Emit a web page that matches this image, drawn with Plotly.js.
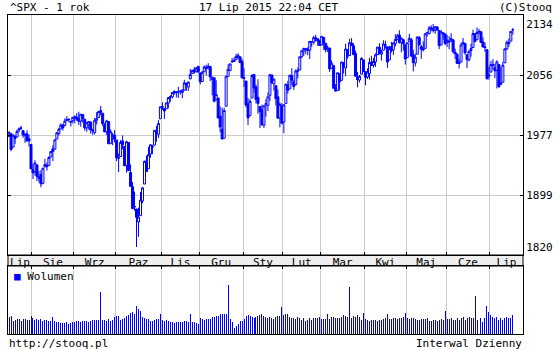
<!DOCTYPE html>
<html>
<head>
<meta charset="utf-8">
<script src="https://cdn.plot.ly/plotly-3.0.1.min.js"></script>
<style>html,body{margin:0;padding:0;background:#fff;}#chart{width:560px;height:350px;}</style>
</head>
<body>
<div id="chart"></div>
<script>
// ---- DATA (^SPX daily, 16 Jul 2014 - 17 Jul 2015) ----
const dates = [
 '2014-07-16','2014-07-17','2014-07-18','2014-07-21','2014-07-22','2014-07-23','2014-07-24','2014-07-25','2014-07-28','2014-07-29','2014-07-30','2014-07-31',
 '2014-08-01','2014-08-04','2014-08-05','2014-08-06','2014-08-07','2014-08-08','2014-08-11','2014-08-12','2014-08-13','2014-08-14','2014-08-15','2014-08-18','2014-08-19','2014-08-20','2014-08-21','2014-08-22','2014-08-25','2014-08-26','2014-08-27','2014-08-28','2014-08-29',
 '2014-09-02','2014-09-03','2014-09-04','2014-09-05','2014-09-08','2014-09-09','2014-09-10','2014-09-11','2014-09-12','2014-09-15','2014-09-16','2014-09-17','2014-09-18','2014-09-19','2014-09-22','2014-09-23','2014-09-24','2014-09-25','2014-09-26','2014-09-29','2014-09-30',
 '2014-10-01','2014-10-02','2014-10-03','2014-10-06','2014-10-07','2014-10-08','2014-10-09','2014-10-10','2014-10-13','2014-10-14','2014-10-15','2014-10-16','2014-10-17','2014-10-20','2014-10-21','2014-10-22','2014-10-23','2014-10-24','2014-10-27','2014-10-28','2014-10-29','2014-10-30','2014-10-31',
 '2014-11-03','2014-11-04','2014-11-05','2014-11-06','2014-11-07','2014-11-10','2014-11-11','2014-11-12','2014-11-13','2014-11-14','2014-11-17','2014-11-18','2014-11-19','2014-11-20','2014-11-21','2014-11-24','2014-11-25','2014-11-26','2014-11-28',
 '2014-12-01','2014-12-02','2014-12-03','2014-12-04','2014-12-05','2014-12-08','2014-12-09','2014-12-10','2014-12-11','2014-12-12','2014-12-15','2014-12-16','2014-12-17','2014-12-18','2014-12-19','2014-12-22','2014-12-23','2014-12-24','2014-12-26','2014-12-29','2014-12-30','2014-12-31',
 '2015-01-02','2015-01-05','2015-01-06','2015-01-07','2015-01-08','2015-01-09','2015-01-12','2015-01-13','2015-01-14','2015-01-15','2015-01-16','2015-01-20','2015-01-21','2015-01-22','2015-01-23','2015-01-26','2015-01-27','2015-01-28','2015-01-29','2015-01-30',
 '2015-02-02','2015-02-03','2015-02-04','2015-02-05','2015-02-06','2015-02-09','2015-02-10','2015-02-11','2015-02-12','2015-02-13','2015-02-17','2015-02-18','2015-02-19','2015-02-20','2015-02-23','2015-02-24','2015-02-25','2015-02-26','2015-02-27',
 '2015-03-02','2015-03-03','2015-03-04','2015-03-05','2015-03-06','2015-03-09','2015-03-10','2015-03-11','2015-03-12','2015-03-13','2015-03-16','2015-03-17','2015-03-18','2015-03-19','2015-03-20','2015-03-23','2015-03-24','2015-03-25','2015-03-26','2015-03-27','2015-03-30','2015-03-31',
 '2015-04-01','2015-04-02','2015-04-06','2015-04-07','2015-04-08','2015-04-09','2015-04-10','2015-04-13','2015-04-14','2015-04-15','2015-04-16','2015-04-17','2015-04-20','2015-04-21','2015-04-22','2015-04-23','2015-04-24','2015-04-27','2015-04-28','2015-04-29','2015-04-30',
 '2015-05-01','2015-05-04','2015-05-05','2015-05-06','2015-05-07','2015-05-08','2015-05-11','2015-05-12','2015-05-13','2015-05-14','2015-05-15','2015-05-18','2015-05-19','2015-05-20','2015-05-21','2015-05-22','2015-05-26','2015-05-27','2015-05-28','2015-05-29',
 '2015-06-01','2015-06-02','2015-06-03','2015-06-04','2015-06-05','2015-06-08','2015-06-09','2015-06-10','2015-06-11','2015-06-12','2015-06-15','2015-06-16','2015-06-17','2015-06-18','2015-06-19','2015-06-22','2015-06-23','2015-06-24','2015-06-25','2015-06-26','2015-06-29','2015-06-30',
 '2015-07-01','2015-07-02','2015-07-06','2015-07-07','2015-07-08','2015-07-09','2015-07-10','2015-07-13','2015-07-14','2015-07-15','2015-07-16','2015-07-17'
];
const open = [
 1976.4,1979.8,1961.5,1976.9,1975.7,1985.3,1988.1,1984.6,1978.3,1980.0,1973.2,1965.1,
 1929.8,1926.6,1936.3,1917.3,1923.0,1910.4,1933.4,1935.7,1935.6,1947.4,1958.9,1958.4,1972.7,1980.5,1986.8,1992.6,1991.7,1998.6,2000.5,1997.4,1998.5,
 2004.1,2003.6,2001.7,1998.0,2007.2,2000.7,1988.4,1992.9,1996.7,1986.0,1981.9,1999.3,2003.1,2012.7,2009.1,1992.8,1983.3,1997.3,1966.2,1978.1,1978.2,
 1971.4,1945.8,1948.1,1970.0,1962.4,1935.6,1967.7,1925.6,1905.7,1877.1,1874.2,1855.9,1864.9,1885.6,1909.4,1941.3,1931.0,1951.6,1962.0,1964.1,1983.3,1979.5,2001.2,
 2018.2,2015.8,2015.3,2023.3,2032.4,2032.0,2038.2,2037.8,2039.2,2039.7,2038.3,2041.5,2051.2,2045.9,2057.5,2065.1,2070.2,2067.4,2074.8,
 2065.8,2053.8,2067.5,2073.6,2072.8,2074.8,2056.6,2058.9,2027.9,2030.4,2005.0,1986.7,1973.8,2018.9,2061.0,2069.3,2081.5,2083.3,2084.3,2087.6,2088.5,2082.1,
 2058.9,2054.4,2022.2,2005.6,2030.6,2063.5,2046.1,2031.6,2018.4,2013.8,1992.3,2020.8,2020.2,2034.3,2062.9,2050.4,2047.9,2032.3,2002.5,2019.4,
 1996.7,2022.7,2048.9,2043.5,2062.3,2053.5,2049.4,2068.6,2069.9,2088.8,2096.5,2099.2,2099.3,2097.7,2109.8,2109.1,2115.3,2113.9,2110.9,
 2105.2,2115.8,2107.7,2098.5,2100.9,2072.3,2076.1,2044.7,2041.1,2064.6,2055.4,2080.6,2072.8,2098.7,2090.3,2107.9,2103.9,2093.1,2059.9,2055.8,2064.1,2084.1,
 2067.6,2060.0,2064.9,2080.8,2076.9,2081.3,2091.5,2102.0,2092.3,2097.8,2105.0,2102.6,2084.1,2102.8,2098.3,2107.2,2112.8,2119.3,2108.4,2112.5,2105.5,
 2087.4,2110.2,2112.6,2091.3,2079.9,2092.1,2115.6,2102.9,2099.6,2100.4,2122.1,2121.3,2129.5,2127.8,2125.6,2130.4,2125.3,2105.1,2122.3,2120.7,
 2108.6,2110.4,2110.6,2112.4,2095.1,2092.3,2079.1,2081.1,2106.2,2107.4,2091.3,2084.3,2097.4,2101.6,2121.1,2112.5,2123.2,2123.7,2109.6,2102.6,2098.6,2061.2,
 2067.0,2078.0,2073.0,2069.5,2077.7,2049.7,2052.7,2080.0,2099.7,2109.0,2110.6,2126.8
];
const high = [
 1983.9,1981.8,1979.9,1976.9,1986.2,1989.2,1991.4,1984.6,1981.5,1984.9,1978.9,1965.1,
 1937.4,1942.9,1936.3,1927.9,1928.9,1932.4,1944.9,1939.7,1948.4,1955.2,1964.0,1971.9,1982.6,1988.6,1994.8,1993.5,2001.9,2005.0,2002.1,1998.5,2003.4,
 2006.1,2009.3,2011.2,2007.7,2007.2,2001.0,1996.7,1997.7,1996.7,1987.2,2002.3,2010.7,2012.3,2019.3,2009.1,1995.4,1999.8,1997.3,1986.4,1981.3,1985.2,
 1971.4,1952.3,1971.2,1977.8,1962.4,1970.4,1967.7,1936.9,1912.1,1898.7,1874.2,1876.0,1898.2,1905.0,1942.5,1949.3,1961.9,1965.3,1964.6,1985.1,1991.4,1999.4,2018.2,
 2024.5,2015.9,2023.8,2031.6,2034.3,2038.7,2041.3,2040.3,2046.2,2042.2,2043.1,2056.1,2052.1,2053.8,2071.5,2070.2,2074.2,2073.3,2075.8,
 2065.8,2068.8,2076.3,2077.3,2079.5,2075.8,2060.6,2058.9,2055.5,2030.4,2018.7,2016.9,2016.8,2061.2,2077.9,2078.8,2086.7,2087.6,2092.7,2093.6,2088.5,2085.6,
 2072.4,2054.4,2030.3,2029.6,2064.1,2064.4,2049.3,2056.9,2018.4,2021.4,2020.5,2028.9,2038.3,2064.6,2062.9,2057.6,2047.9,2042.5,2024.6,2023.3,
 2021.7,2050.3,2054.7,2063.6,2072.4,2056.2,2070.9,2073.5,2088.5,2097.0,2101.3,2100.2,2102.1,2110.6,2110.1,2117.9,2119.6,2113.9,2112.7,
 2117.5,2115.8,2107.7,2104.3,2100.9,2083.5,2076.1,2050.1,2066.4,2064.6,2081.4,2080.6,2106.9,2098.7,2113.9,2114.9,2107.6,2097.4,2067.2,2062.8,2088.0,2084.1,
 2067.6,2072.2,2086.9,2089.8,2086.7,2093.3,2102.6,2107.7,2098.6,2111.9,2111.3,2102.6,2103.9,2109.6,2109.0,2120.5,2120.9,2125.9,2116.0,2113.7,2105.5,
 2108.4,2120.9,2115.2,2098.4,2092.9,2117.7,2117.7,2105.1,2110.2,2121.5,2123.9,2131.8,2133.0,2134.7,2131.8,2131.5,2125.3,2126.2,2122.3,2120.7,
 2119.2,2117.6,2121.9,2112.9,2100.0,2093.0,2085.6,2108.5,2115.0,2107.4,2091.3,2097.4,2106.8,2126.7,2121.6,2129.9,2128.0,2125.1,2116.0,2108.9,2098.6,2074.3,
 2082.8,2085.3,2078.6,2083.7,2077.7,2074.3,2081.3,2100.7,2111.4,2114.1,2124.4,2128.9
];
const low = [
 1975.7,1955.6,1960.8,1965.8,1975.7,1982.4,1985.8,1974.4,1967.3,1969.9,1962.4,1930.7,
 1916.4,1921.2,1913.8,1911.5,1904.8,1909.0,1933.4,1928.3,1935.6,1947.4,1941.5,1958.4,1972.7,1977.7,1986.8,1984.8,1991.7,1998.6,1996.2,1990.5,1994.7,
 1994.9,1998.1,1992.5,1990.1,1995.6,1984.6,1982.9,1985.9,1980.3,1978.5,1979.1,1993.3,2003.1,2006.6,1991.0,1982.8,1978.6,1965.9,1966.2,1964.0,1968.0,
 1941.7,1926.0,1948.1,1958.4,1935.1,1925.3,1927.6,1906.1,1874.1,1871.8,1820.7,1835.0,1864.9,1882.3,1909.4,1926.8,1931.0,1946.3,1951.4,1964.1,1969.0,1974.2,2001.2,
 2013.7,2001.0,2015.3,2015.9,2025.1,2030.2,2035.3,2031.3,2030.4,2035.2,2030.2,2041.5,2040.4,2040.5,2056.8,2065.1,2064.8,2066.4,2065.1,
 2049.6,2053.8,2066.7,2062.3,2070.9,2054.3,2034.2,2024.3,2027.9,2002.3,1982.3,1972.6,1973.8,2018.9,2061.0,2069.3,2079.8,2081.9,2084.3,2085.8,2079.5,2057.9,
 2046.0,2017.3,1992.4,2005.6,2030.6,2038.3,2022.6,2008.3,1988.4,1991.5,1988.1,2004.5,2012.0,2026.4,2050.5,2040.9,2019.9,2001.5,1989.2,1993.4,
 1980.9,2022.7,2036.7,2043.5,2049.0,2041.9,2048.6,2057.9,2069.9,2086.7,2089.8,2092.2,2090.8,2085.4,2102.5,2105.9,2109.9,2103.8,2103.8,
 2104.5,2098.3,2094.5,2095.2,2067.3,2072.2,2044.2,2039.7,2041.1,2041.2,2055.4,2065.1,2061.2,2085.6,2090.3,2104.4,2091.5,2061.1,2045.5,2052.2,2064.1,2067.0,
 2048.4,2057.3,2056.5,2076.1,2073.3,2074.3,2091.0,2092.3,2083.2,2097.8,2100.0,2073.0,2084.1,2094.4,2091.1,2103.2,2112.8,2107.0,2094.9,2097.4,2077.6,
 2087.4,2110.2,2088.5,2067.9,2074.9,2092.1,2104.6,2085.6,2096.0,2100.4,2116.8,2120.0,2124.5,2122.6,2120.9,2125.8,2099.2,2105.1,2112.8,2104.9,
 2102.5,2099.1,2109.6,2093.2,2085.7,2079.1,2072.1,2081.1,2106.2,2091.3,2072.5,2082.1,2088.9,2101.6,2108.9,2112.5,2119.9,2108.2,2101.8,2095.4,2056.6,2056.3,
 2067.0,2071.0,2058.4,2044.0,2044.7,2049.7,2052.7,2080.0,2098.2,2102.5,2110.6,2119.9
];
const close = [
 1981.6,1958.1,1978.2,1973.6,1983.5,1987.0,1988.0,1978.3,1978.9,1970.0,1970.1,1930.7,
 1925.2,1939.0,1920.2,1920.2,1909.6,1931.6,1936.9,1933.8,1946.7,1955.2,1955.1,1971.7,1981.6,1986.5,1992.4,1988.4,1997.9,2000.0,2000.1,1996.7,2003.4,
 2002.3,2000.7,1997.7,2007.7,2001.5,1988.4,1995.7,1997.5,1985.5,1984.1,1999.0,2001.6,2011.4,2010.4,1994.3,1982.8,1998.3,1966.0,1982.9,1977.8,1972.3,
 1946.2,1946.2,1967.9,1964.8,1935.1,1968.9,1928.2,1906.1,1874.7,1877.7,1862.5,1862.8,1886.8,1904.0,1941.3,1927.1,1950.8,1964.6,1961.6,1985.1,1982.3,1994.7,2018.1,
 2017.8,2012.1,2023.6,2031.2,2031.9,2038.3,2039.7,2038.3,2039.3,2039.8,2041.3,2051.8,2048.7,2052.8,2063.5,2069.4,2067.0,2072.8,2067.6,
 2053.4,2066.6,2074.3,2071.9,2075.4,2060.3,2059.8,2026.1,2035.3,2002.3,1989.6,1972.7,2012.9,2061.2,2070.7,2078.5,2082.2,2081.9,2088.8,2090.6,2080.4,2058.9,
 2058.2,2020.6,2002.6,2025.9,2062.1,2044.8,2028.3,2023.0,2011.3,1992.7,2019.4,2022.6,2032.1,2063.2,2051.8,2057.1,2029.6,2002.2,2021.3,1995.0,
 2020.9,2050.0,2041.5,2062.5,2055.5,2046.7,2068.6,2068.5,2088.5,2097.0,2100.3,2099.7,2097.5,2110.3,2109.7,2115.5,2113.9,2110.7,2104.5,
 2117.4,2107.8,2098.5,2101.0,2071.3,2079.4,2044.2,2040.2,2066.0,2053.4,2081.2,2074.3,2099.5,2089.3,2108.1,2104.4,2091.5,2061.1,2056.2,2061.0,2086.2,2067.9,
 2059.7,2067.0,2080.6,2076.3,2081.9,2091.2,2102.1,2092.4,2095.8,2106.6,2105.0,2081.2,2100.4,2097.3,2108.0,2112.9,2117.7,2108.9,2114.8,2106.9,2085.5,
 2108.3,2114.5,2089.5,2080.2,2088.0,2116.1,2105.3,2099.1,2098.5,2121.1,2122.7,2129.2,2127.8,2125.9,2130.8,2126.1,2104.2,2123.5,2120.8,2107.4,
 2111.7,2109.6,2114.1,2095.8,2092.8,2079.3,2080.2,2105.2,2108.9,2094.1,2084.4,2096.3,2100.4,2121.2,2110.0,2122.9,2124.2,2108.6,2102.3,2101.5,2057.6,2063.1,
 2077.4,2076.8,2068.8,2081.3,2046.7,2051.3,2076.6,2099.6,2109.0,2107.4,2124.3,2126.6
];
// volume (relative units, read as bar heights from the lower panel)
const volume = [
 17,18,13,14,15,15,13,15,15,14,14,18,
 16,14,15,14,15,13,14,14,13,13,17,13,12,12,11,11,11,12,10,11,12,
 12,13,13,12,13,13,13,12,13,14,14,14,14,42,14,14,13,15,13,14,17,
 18,18,14,15,16,18,19,21,22,20,28,25,23,17,16,15,15,13,13,14,15,15,20,
 14,13,14,13,12,12,11,12,12,12,12,13,13,12,20,12,12,11,10,
 16,15,14,15,15,15,17,17,18,18,20,20,20,20,49,15,12,6,8,10,13,13,
 15,18,19,18,17,16,17,18,19,20,18,17,16,17,16,15,17,18,18,27,
 19,20,20,17,16,16,15,17,16,14,16,13,14,16,14,16,16,16,17,
 15,15,15,20,15,17,17,16,16,16,17,19,18,17,47,16,18,17,19,17,14,21,
 15,14,13,14,14,14,13,14,14,15,16,20,15,15,16,16,15,16,16,17,21,
 16,15,16,16,15,14,14,15,15,15,16,13,13,14,14,13,14,15,14,23,
 15,15,16,14,14,16,14,16,17,14,16,17,16,16,38,14,17,16,12,16,28,22,
 19,17,16,17,14,16,14,16,17,16,16,19
];
const monthLabels = ['Lip','Sie','Wrz','Paz','Lis','Gru','Sty','Lut','Mar','Kwi','Maj','Cze','Lip'];
const yTickLabels = ['1820','1899','1977','2056','2134'];
const titleLeft = '^SPX - 1 rok';
const titleCenter = '17 Lip 2015 22:04 CET';
const titleRight = '(C)Stooq';
const footLeft = 'http://stooq.pl';
const footRight = 'Interwal Dzienny';
const legendName = 'Wolumen';

// ---- derived positions ----
const idx = dates.map((d, i) => i);
const xr = [-0.55, 258.1];
const starts = [0];
for (let i = 1; i < dates.length; i++) if (dates[i].slice(0, 7) !== dates[i - 1].slice(0, 7)) starts.push(i);
const bounds = starts.slice(1).map(i => i - 0.5);
const edges = [xr[0], ...bounds, xr[1]];
const centers = monthLabels.map((m, k) => (edges[k] + edges[k + 1]) / 2);

const lo = Math.min(...low), hi = Math.max(...high);
const k = 223 / (hi - lo);
const yr = [lo - 8 / k, hi + 9 / k];
const q = (yr[1] - yr[0]) / 4;
const grid = [yr[0] + q, yr[0] + 2 * q, yr[0] + 3 * q];
const yTickVals = [lo, ...grid, hi];

// page geometry helpers (plot area: x 8..523, y 15..334)
const L = 8, R = 523, T = 15, B = 334;
const px = p => (p - L) / (R - L);
const py = p => (B - p) / (B - T);
const mainBottom = 255, volTop = 266;

const blue = '#0000ff';
const font = {family: 'DejaVu Sans Mono, monospace', size: 11, color: '#000'};

const traces = [
  {
    type: 'candlestick', x: idx, open: open, high: high, low: low, close: close,
    xaxis: 'x', yaxis: 'y', whiskerwidth: 0, hoverinfo: 'skip',
    increasing: {line: {color: blue, width: 1}, fillcolor: '#ffffff'},
    decreasing: {line: {color: blue, width: 1}, fillcolor: blue}
  },
  {
    type: 'bar', x: idx, y: volume, xaxis: 'x2', yaxis: 'y2', width: 0.5,
    marker: {color: blue, line: {width: 0}}, hoverinfo: 'skip'
  }
];

const minorX = {tickmode: 'array', tickvals: bounds, ticks: 'inside', ticklen: 3, tickcolor: '#000', tickwidth: 1,
  showgrid: true, gridcolor: '#cccccc', gridwidth: 1};

const layout = {
  width: 560, height: 350,
  margin: {l: L, r: 560 - R, t: T, b: 350 - B, pad: 0},
  paper_bgcolor: '#ffffff', plot_bgcolor: '#ffffff',
  showlegend: false, font: font, boxgap: 0, boxgroupgap: 0, bargap: 0,
  xaxis: {
    domain: [0, 1], anchor: 'y', range: xr, rangeslider: {visible: false}, fixedrange: true,
    tickmode: 'array', tickvals: centers, ticktext: monthLabels, ticks: '', showgrid: false, zeroline: false,
    showline: true, linecolor: '#000', linewidth: 1, mirror: true, tickfont: font, ticklabelstandoff: -3,
    minor: minorX
  },
  xaxis2: {
    domain: [0, 1], anchor: 'y2', matches: 'x', range: xr, side: 'top', fixedrange: true,
    showticklabels: false, ticks: '', showgrid: false, zeroline: false,
    showline: true, linecolor: '#000', linewidth: 1, mirror: true,
    minor: minorX
  },
  yaxis: {
    domain: [py(mainBottom), 1], anchor: 'x', side: 'right', range: yr, fixedrange: true,
    tickmode: 'array', tickvals: yTickVals, ticktext: yTickLabels, ticks: '', showgrid: false, zeroline: false,
    showline: true, linecolor: '#000', linewidth: 1, mirror: 'ticks', tickfont: font,
    minor: {tickmode: 'array', tickvals: grid, ticks: 'inside', ticklen: 3, tickcolor: '#000', showgrid: true, gridcolor: '#cccccc', gridwidth: 1}
  },
  yaxis2: {
    domain: [0, py(volTop)], anchor: 'x2', range: [0, 68], fixedrange: true,
    showticklabels: false, ticks: '', showgrid: false, zeroline: false,
    showline: true, linecolor: '#000', linewidth: 1, mirror: true
  },
  shapes: [
    {type: 'rect', xref: 'paper', yref: 'paper', x0: 0, x1: 1, y0: py(volTop), y1: py(mainBottom),
     fillcolor: '#eeeeee', line: {color: '#000', width: 1}, layer: 'below'}
  ],
  annotations: [
    {text: titleLeft, xref: 'paper', yref: 'paper', x: px(8), y: py(7), xanchor: 'left', yanchor: 'middle', showarrow: false, font: font},
    {text: titleCenter, xref: 'paper', yref: 'paper', x: px(268.5), y: py(7), xanchor: 'center', yanchor: 'middle', showarrow: false, font: font},
    {text: titleRight, xref: 'paper', yref: 'paper', x: px(554), y: py(7), xanchor: 'right', yanchor: 'middle', showarrow: false, font: font},
    {text: footLeft, xref: 'paper', yref: 'paper', x: px(7), y: py(343), xanchor: 'left', yanchor: 'middle', showarrow: false, font: font},
    {text: footRight, xref: 'paper', yref: 'paper', x: px(524), y: py(343), xanchor: 'right', yanchor: 'middle', showarrow: false, font: font},
    {text: '<span style="color:#0000ff">■</span> ' + legendName, xref: 'paper', yref: 'paper', x: px(12), y: py(276), xanchor: 'left', yanchor: 'middle', showarrow: false, font: font}
  ]
};

Plotly.newPlot('chart', traces, layout, {staticPlot: true, displayModeBar: false});
</script>
</body>
</html>
